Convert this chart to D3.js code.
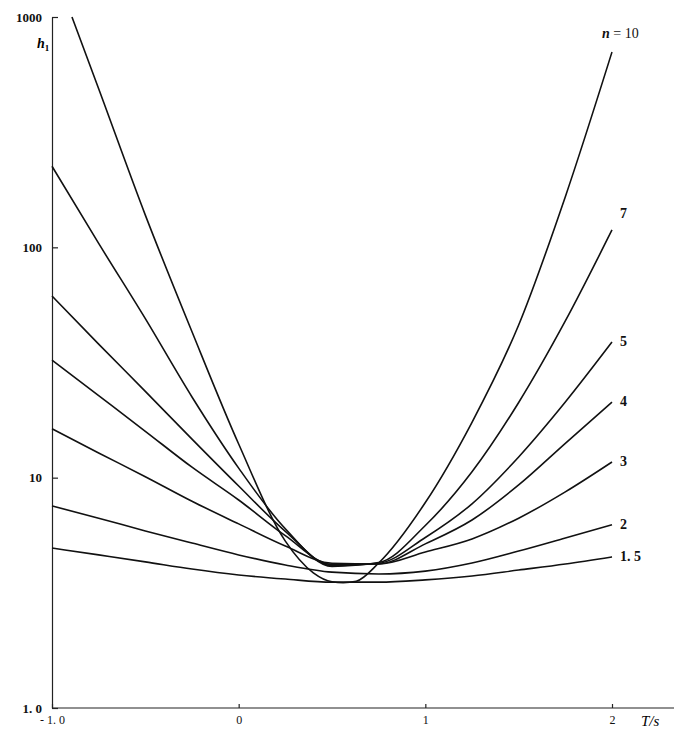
<!DOCTYPE html>
<html>
<head>
<meta charset="utf-8">
<script src="https://cdn.jsdelivr.net/npm/d3@7"></script>
<style>
  body { margin: 0; background: #fff; }
  .axis text { font-family: "Liberation Serif", serif; font-size: 13px; font-weight: bold; fill: #111; }
  .axis path, .axis line { stroke: #222; stroke-width: 1.2; }
</style>
</head>
<body>
<div id="chart"></div>
<script>
// T values shared by curves n = 1.5 ... 7
const tValues = [-1, -0.75, -0.5, -0.25, 0, 0.25, 0.5, 0.75, 1, 1.25, 1.5, 1.75, 2];

const h_n1_5 = [4.95, 4.62, 4.31, 4.01, 3.78, 3.63, 3.52, 3.52, 3.6, 3.74, 3.97, 4.22, 4.53];
const h_n2   = [7.54, 6.67, 5.87, 5.2, 4.62, 4.18, 3.89, 3.82, 3.93, 4.26, 4.8, 5.47, 6.24];
const h_n3   = [16.3, 12.8, 10.1, 7.9, 6.3, 5.05, 4.25, 4.22, 4.76, 5.42, 6.67, 8.68, 11.7];
const h_n4   = [32.4, 22.7, 15.9, 11.1, 8.0, 5.6, 4.2, 4.22, 5.16, 6.55, 9.3, 14.1, 21.3];
const h_n5   = [61.5, 38.0, 23.7, 14.7, 9.2, 5.85, 4.15, 4.25, 5.5, 7.7, 12.3, 21.3, 38.8];
const h_n7   = [225, 104, 49, 22.4, 11.0, 6.0, 4.12, 4.28, 6.2, 10.6, 21.2, 47.9, 119];

// n = 10 has its own T points (starts where it leaves the top of the plot)
const tValues_n10 = [-0.893, -0.75, -0.5, -0.25, 0, 0.25, 0.4, 0.5, 0.56, 0.63, 0.75, 1, 1.25, 1.5, 1.75, 2];
const h_n10 = [1000, 488, 138, 43, 14.0, 5.3, 3.86, 3.53, 3.5, 3.55, 4.26, 7.8, 17.4, 46, 166, 705];

const seriesNames = ["n = 10", "7", "5", "4", "3", "2", "1. 5"];

// axis ticks
const xTicks = [-1, 0, 1, 2];
const xTickLabels = ["- 1. 0", "0", "1", "2"];
const yTicks = [1, 10, 100, 1000];
const yTickLabels = ["1. 0", "10", "100", "1000"];

const W = 674, H = 733;

const svg = d3.select("#chart")
  .append("svg")
  .attr("width", W)
  .attr("height", H)
  .style("background", "#fff");

// scales
const xScale = d3.scaleLinear().domain([-1, 2]).range([52, 612]);
const yScale = d3.scaleLog().domain([1, 1000]).range([708, 17]);

// build series
const series = [
  { name: seriesNames[0], t: tValues_n10, h: h_n10 },
  { name: seriesNames[1], t: tValues, h: h_n7 },
  { name: seriesNames[2], t: tValues, h: h_n5 },
  { name: seriesNames[3], t: tValues, h: h_n4 },
  { name: seriesNames[4], t: tValues, h: h_n3 },
  { name: seriesNames[5], t: tValues, h: h_n2 },
  { name: seriesNames[6], t: tValues, h: h_n1_5 },
].map(s => ({ name: s.name, points: s.t.map((t, i) => ({ t: t, h: s.h[i] })) }));

// x axis (ticks pointing up)
const xAxis = svg.append("g")
  .attr("class", "axis")
  .attr("transform", `translate(0, ${yScale(1)})`)
  .call(d3.axisBottom(xScale)
    .tickValues(xTicks)
    .tickFormat((d, i) => xTickLabels[i])
    .tickSizeInner(-4)
    .tickSizeOuter(0)
    .tickPadding(7));
xAxis.select(".domain").remove();
xAxis.append("line")
  .attr("x1", xScale(-1)).attr("x2", W)
  .attr("y1", 0).attr("y2", 0)
  .attr("stroke", "#222").attr("stroke-width", 1.2);
xAxis.selectAll(".tick text").style("font-weight", "normal").style("font-size", "12px");

// y axis (ticks pointing right)
svg.append("g")
  .attr("class", "axis")
  .attr("transform", `translate(${xScale(-1)}, 0)`)
  .call(d3.axisLeft(yScale)
    .tickValues(yTicks)
    .tickFormat((d, i) => yTickLabels[i])
    .tickSizeInner(-6)
    .tickSizeOuter(0)
    .tickPadding(10));

// axis titles
const hLabel = svg.append("text")
  .attr("x", 37)
  .attr("y", 48)
  .style("font-family", "Liberation Serif, serif")
  .style("font-size", "14px")
  .style("font-weight", "bold")
  .style("font-style", "italic");
hLabel.append("tspan").text("h");
hLabel.append("tspan").attr("dy", 3).style("font-size", "9px").style("font-style", "normal").text("1");

svg.append("text")
  .attr("x", 641)
  .attr("y", 726)
  .style("font-family", "Liberation Serif, serif")
  .style("font-size", "15px")
  .style("font-style", "italic")
  .text("T/s");

// curves
const line = d3.line()
  .x(d => xScale(d.t))
  .y(d => yScale(d.h))
  .curve(d3.curveMonotoneX);

svg.selectAll(".curve")
  .data(series)
  .enter().append("path")
  .attr("class", "curve")
  .attr("d", d => line(d.points))
  .attr("fill", "none")
  .attr("stroke", "#111")
  .attr("stroke-width", 1.6);

// curve labels at the right end
const labels = svg.selectAll(".label")
  .data(series)
  .enter().append("text")
  .attr("class", "label")
  .attr("x", d => d.name === "n = 10" ? xScale(2) - 10 : xScale(2) + 8)
  .attr("y", d => {
    const last = d.points[d.points.length - 1];
    return d.name === "n = 10" ? yScale(last.h) - 14 : yScale(last.h) + (d.name === "7" ? -12 : 4);
  })
  .style("font-family", "Liberation Serif, serif")
  .style("font-size", "14px")
  .style("font-weight", "bold")
  .style("fill", "#111");

labels.each(function (d) {
  const t = d3.select(this);
  if (d.name === "n = 10") {
    t.append("tspan").style("font-style", "italic").text("n");
    t.append("tspan").style("font-weight", "normal").text(" = 10");
  } else {
    t.text(d.name);
  }
});
</script>
</body>
</html>
